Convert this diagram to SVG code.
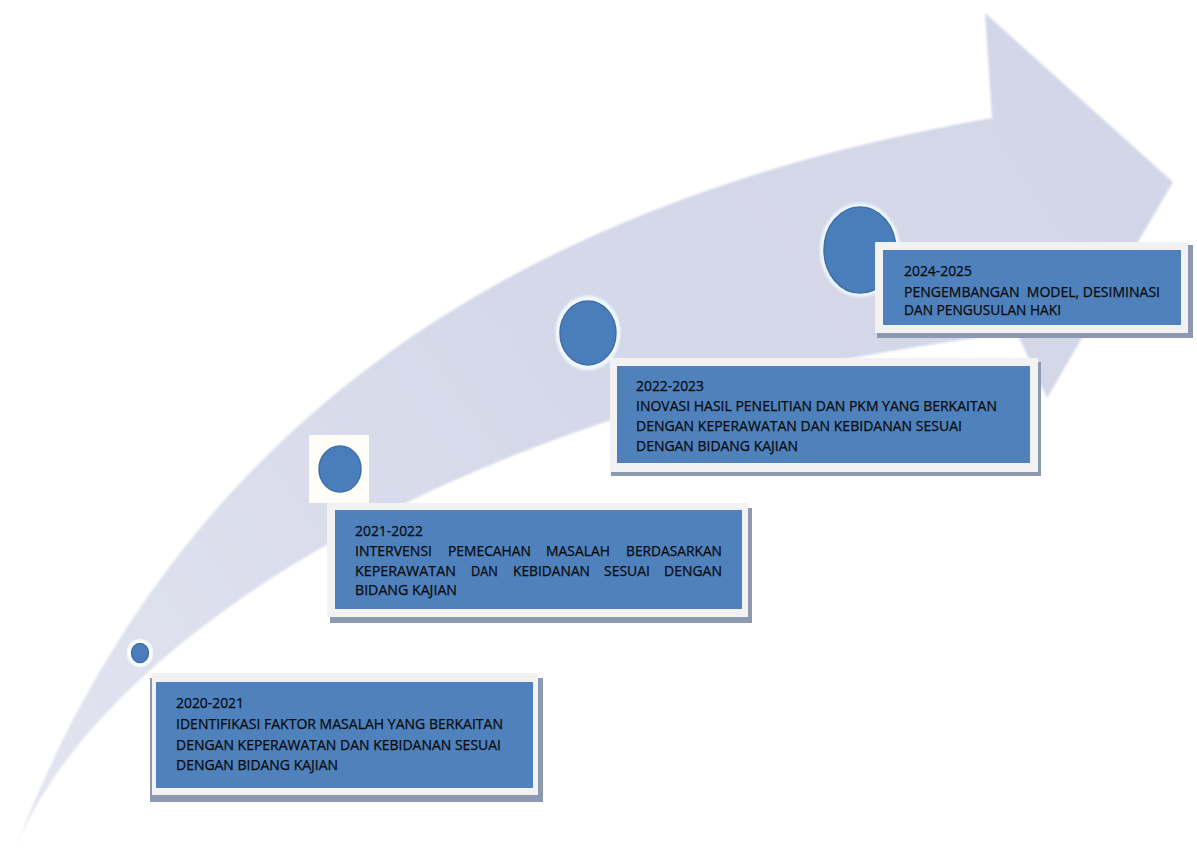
<svg xmlns="http://www.w3.org/2000/svg" width="1197" height="849" viewBox="0 0 1197 849">
  <defs>
    <linearGradient id="arrowGrad" x1="0" y1="849" x2="1197" y2="0" gradientUnits="userSpaceOnUse">
      <stop offset="0" stop-color="#e3e5f0"/>
      <stop offset="0.45" stop-color="#d6d9e9"/>
      <stop offset="1" stop-color="#d2d6e7"/>
    </linearGradient>
    <radialGradient id="ringGlow" cx="0.5" cy="0.5" r="0.5">
      <stop offset="0.8" stop-color="#ffffff"/>
      <stop offset="0.92" stop-color="#eaf5fb"/>
      <stop offset="1" stop-color="#eaf5fb" stop-opacity="0"/>
    </radialGradient>
    <filter id="soft" x="-5%" y="-5%" width="110%" height="110%">
      <feGaussianBlur stdDeviation="0.8"/>
    </filter>
  </defs>
  <style>
    .frame { fill: #f2f2f2; }
    .shadow { fill: #8d99b0; }
    .card { fill: #4f81bd; }
    .dot { fill: #4a7ebb; stroke: #3f6fa6; stroke-width: 1.5; }
    .ring { fill: url(#ringGlow); }
    .t { font-family: "Open Sans", "Liberation Sans", sans-serif; font-size: 14px; fill: #0a0a0a; stroke: #0a0a0a; stroke-width: 0.25px; }
  </style>
  <rect x="0" y="0" width="1197" height="849" fill="#ffffff"/>

  <g id="arrow">
    <path filter="url(#soft)" fill="url(#arrowGrad)" d="M 16 847 C 180 420 520 200 992 118 L 985 13 L 1173 182 L 1047 398 L 1017 333 C 470 395 100 640 16 847 Z"/>
  </g>

  <g id="connectors"/>

  <g id="dot-2020">
    <ellipse class="ring" cx="140" cy="653" rx="14" ry="15"/>
    <ellipse class="dot" cx="140" cy="653" rx="8.5" ry="9.5"/>
  </g>
  <g id="dot-2021">
    <rect x="309" y="435" width="60" height="68" fill="#fffdf8"/>
    <ellipse class="dot" cx="340" cy="469" rx="21" ry="23" stroke="#3a6496" stroke-width="2"/>
  </g>
  <g id="dot-2022">
    <ellipse class="ring" cx="588" cy="333" rx="34" ry="39"/>
    <ellipse class="dot" cx="588" cy="333" rx="28" ry="32"/>
  </g>
  <g id="dot-2024">
    <ellipse class="ring" cx="860" cy="250" rx="42" ry="49"/>
    <ellipse class="dot" cx="860" cy="250" rx="36" ry="43"/>
  </g>

  <g id="node-2020">
    <rect class="shadow" x="150" y="678" width="393" height="124"/>
    <rect class="frame" x="152" y="673" width="386" height="122"/>
    <rect class="card" x="156" y="682" width="377" height="106"/>
    <text class="t" x="176" y="707.5" textLength="68" lengthAdjust="spacingAndGlyphs">2020-2021</text>
    <text class="t" x="176" y="728.5" textLength="327" lengthAdjust="spacingAndGlyphs">IDENTIFIKASI FAKTOR MASALAH YANG BERKAITAN</text>
    <text class="t" x="176" y="749.5" textLength="325" lengthAdjust="spacingAndGlyphs">DENGAN KEPERAWATAN DAN KEBIDANAN SESUAI</text>
    <text class="t" x="176" y="770" textLength="162" lengthAdjust="spacingAndGlyphs">DENGAN BIDANG KAJIAN</text>
  </g>

  <g id="node-2021">
    <rect class="shadow" x="330" y="508" width="422" height="115"/>
    <rect class="frame" x="327" y="503" width="421" height="114"/>
    <rect class="card" x="335" y="510" width="407" height="99"/>
    <text class="t" x="355" y="536" textLength="68" lengthAdjust="spacingAndGlyphs">2021-2022</text>
    <text class="t" y="556"><tspan x="355" textLength="77" lengthAdjust="spacingAndGlyphs">INTERVENSI</tspan> <tspan x="448" textLength="83" lengthAdjust="spacingAndGlyphs">PEMECAHAN</tspan> <tspan x="546" textLength="64" lengthAdjust="spacingAndGlyphs">MASALAH</tspan> <tspan x="626" textLength="96" lengthAdjust="spacingAndGlyphs">BERDASARKAN</tspan></text>
    <text class="t" y="576"><tspan x="355" textLength="101" lengthAdjust="spacingAndGlyphs">KEPERAWATAN</tspan> <tspan x="471" textLength="27" lengthAdjust="spacingAndGlyphs">DAN</tspan> <tspan x="513" textLength="77" lengthAdjust="spacingAndGlyphs">KEBIDANAN</tspan> <tspan x="604" textLength="46" lengthAdjust="spacingAndGlyphs">SESUAI</tspan> <tspan x="664" textLength="58" lengthAdjust="spacingAndGlyphs">DENGAN</tspan></text>
    <text class="t" x="355" y="595" textLength="102" lengthAdjust="spacingAndGlyphs">BIDANG KAJIAN</text>
  </g>

  <g id="node-2022">
    <rect class="shadow" x="611" y="362" width="430" height="114"/>
    <rect class="frame" x="610" y="358" width="428" height="114"/>
    <rect class="card" x="617" y="366" width="413" height="97"/>
    <text class="t" x="636" y="391" textLength="68" lengthAdjust="spacingAndGlyphs">2022-2023</text>
    <text class="t" x="636" y="411" textLength="361" lengthAdjust="spacingAndGlyphs">INOVASI HASIL PENELITIAN DAN PKM YANG BERKAITAN</text>
    <text class="t" x="636" y="431" textLength="326" lengthAdjust="spacingAndGlyphs">DENGAN KEPERAWATAN DAN KEBIDANAN SESUAI</text>
    <text class="t" x="636" y="451" textLength="162" lengthAdjust="spacingAndGlyphs">DENGAN BIDANG KAJIAN</text>
  </g>

  <g id="node-2024">
    <rect class="shadow" x="877" y="245" width="316" height="93"/>
    <rect class="frame" x="875" y="242" width="313" height="91"/>
    <rect class="card" x="883" y="250" width="298" height="75"/>
    <text class="t" x="904" y="276" textLength="68" lengthAdjust="spacingAndGlyphs">2024-2025</text>
    <text class="t" x="904" y="297" textLength="256" lengthAdjust="spacingAndGlyphs" xml:space="preserve">PENGEMBANGAN  MODEL, DESIMINASI</text>
    <text class="t" x="904" y="315" textLength="157" lengthAdjust="spacingAndGlyphs">DAN PENGUSULAN HAKI</text>
  </g>
</svg>
